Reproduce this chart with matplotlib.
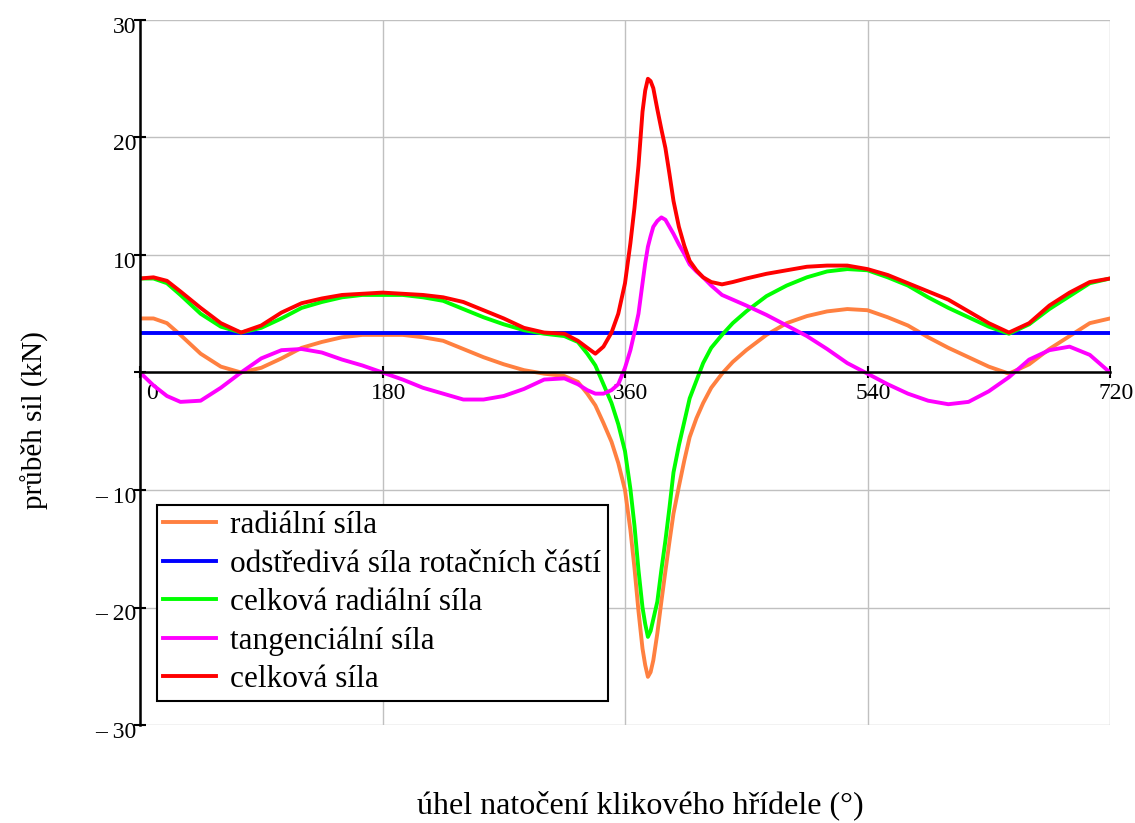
import matplotlib
matplotlib.use('Agg')
import matplotlib.pyplot as plt
from matplotlib.transforms import ScaledTranslation

plt.rcParams['font.family'] = ['Liberation Serif', 'DejaVu Serif']

# uhel natoceni klikoveho hridele [deg]
uhel = [0, 10, 20, 30, 45, 60, 75, 90, 105, 120, 135, 150, 165, 180, 195, 210, 225, 240,
        255, 270, 285, 300, 315, 325, 332, 338, 344, 350, 355, 360, 364, 367, 370, 373,
        375, 377, 379, 381, 384, 387, 390, 393, 396, 400, 404, 408, 413, 418, 424, 432,
        440, 450, 465, 480, 495, 510, 525, 540, 555, 570, 585, 600, 615, 630, 645, 660,
        675, 690, 705, 720]

radialni = [4.6, 4.6, 4.2, 3.2, 1.6, 0.5, 0.0, 0.4, 1.2, 2.1, 2.6, 3.0, 3.2, 3.2, 3.2, 3.0, 2.7, 2.0,
            1.3, 0.7, 0.2, -0.1, -0.3, -0.8, -1.8, -2.8, -4.3, -5.9, -7.7, -10.0, -13.4, -16.6, -20.3, -23.5,
            -24.9, -25.9, -25.5, -24.5, -22.2, -19.5, -16.9, -14.4, -12.0, -9.7, -7.5, -5.5, -3.9, -2.6, -1.3, -0.1,
            0.9, 1.9, 3.2, 4.2, 4.8, 5.2, 5.4, 5.3, 4.7, 4.0, 3.0, 2.1, 1.3, 0.5, -0.1, 0.7,
            2.0, 3.1, 4.2, 4.6]

odstrediva = 3.4

celkova_radialni = [8.0, 8.0, 7.6, 6.6, 5.0, 3.9, 3.4, 3.8, 4.6, 5.5, 6.0, 6.4, 6.6, 6.6, 6.6, 6.4, 6.1, 5.4,
                    4.7, 4.1, 3.6, 3.3, 3.1, 2.6, 1.6, 0.6, -1.0, -2.6, -4.4, -6.7, -9.9, -13.0, -16.8, -20.0,
                    -21.4, -22.5, -22.0, -21.0, -19.5, -16.8, -14.3, -11.5, -8.5, -6.2, -4.2, -2.2, -0.7, 0.8, 2.1, 3.2,
                    4.2, 5.2, 6.5, 7.4, 8.1, 8.6, 8.8, 8.7, 8.1, 7.4, 6.4, 5.5, 4.7, 3.9, 3.3, 4.1,
                    5.4, 6.5, 7.6, 8.0]

tangencialni = [0.0, -1.1, -2.0, -2.5, -2.4, -1.3, 0.0, 1.2, 1.9, 2.0, 1.7, 1.1, 0.6, 0.0, -0.6, -1.3, -1.8, -2.3,
                -2.3, -2.0, -1.4, -0.6, -0.5, -1.0, -1.5, -1.8, -1.8, -1.5, -1.0, 0.4, 1.9, 3.4, 5.0, 7.6,
                9.3, 10.7, 11.6, 12.4, 12.9, 13.2, 13.0, 12.4, 11.8, 10.9, 10.1, 9.2, 8.6, 8.1, 7.4, 6.6,
                6.2, 5.7, 4.9, 4.0, 3.1, 2.0, 0.8, -0.1, -1.0, -1.8, -2.4, -2.7, -2.5, -1.6, -0.4, 1.1,
                1.9, 2.2, 1.5, 0.0]

celkova = [8.0, 8.1, 7.8, 6.9, 5.5, 4.2, 3.4, 4.0, 5.1, 5.9, 6.3, 6.6, 6.7, 6.8, 6.7, 6.6, 6.4, 6.0,
           5.3, 4.6, 3.8, 3.4, 3.3, 2.7, 2.1, 1.6, 2.2, 3.4, 5.0, 7.6, 11.0, 14.0, 17.6, 22.2,
           24.0, 25.0, 24.8, 24.2, 22.4, 20.7, 19.1, 16.9, 14.6, 12.4, 10.8, 9.5, 8.7, 8.1, 7.7, 7.5,
           7.7, 8.0, 8.4, 8.7, 9.0, 9.1, 9.1, 8.8, 8.3, 7.6, 6.9, 6.2, 5.2, 4.2, 3.4, 4.2,
           5.7, 6.8, 7.7, 8.0]

x_ticks = [0, 180, 360, 540, 720]
y_ticks = [-30, -20, -10, 0, 10, 20, 30]
y_labels = ['\u2013 30', '\u2013 20', '\u2013 10', '', '10', '20', '30']

fig = plt.figure(figsize=(11.35, 8.23), dpi=100)
ax = fig.add_axes([140 / 1135, 1 - 725 / 823, 970 / 1135, 705 / 823])

lw = 2.8
ax.plot(uhel, radialni, color='#ff8040', lw=lw, label='radiální síla')
ax.plot(uhel, [odstrediva] * len(uhel), color='#0000ff', lw=lw, label='odstředivá síla rotačních částí')
ax.plot(uhel, celkova_radialni, color='#00ff00', lw=lw, label='celková radiální síla')
ax.plot(uhel, tangencialni, color='#ff00ff', lw=lw, label='tangenciální síla')
ax.plot(uhel, celkova, color='#ff0000', lw=lw, label='celková síla')

ax.set_xlim(0, 720)
ax.set_ylim(-30, 30)
ax.set_xticks(x_ticks)
ax.set_yticks(y_ticks)
ax.set_yticklabels(y_labels)
ax.grid(True, color='#c0c0c0', lw=1)
ax.set_axisbelow(True)

for s in ['top', 'right']:
    ax.spines[s].set_visible(False)
ax.spines['left'].set_linewidth(1.8)
ax.spines['bottom'].set_position(('data', 0))
ax.spines['bottom'].set_linewidth(1.8)

ax.tick_params(axis='y', direction='inout', length=9, width=1.5, pad=-2, labelsize=17)
ax.tick_params(axis='x', direction='inout', length=9, width=1.5, pad=3, labelsize=17)

off = ScaledTranslation(6 / 100, 0, fig.dpi_scale_trans)
for lbl in ax.get_xticklabels():
    lbl.set_transform(lbl.get_transform() + off)
ax.get_xticklabels()[0].set_ha('left')
for lbl in ax.get_yticklabels():
    lbl.set_va('top')
    lbl.set_transform(lbl.get_transform() + ScaledTranslation(0, 3 / 100, fig.dpi_scale_trans))

leg = ax.legend(loc='upper left', bbox_to_anchor=(157 / 1135, 1 - 505 / 823),
                bbox_transform=fig.transFigure, borderaxespad=0, fancybox=False,
                edgecolor='black', framealpha=1, fontsize=22.5, handlelength=1.7,
                handletextpad=0.45, labelspacing=0.3, borderpad=0.2)
leg.get_frame().set_linewidth(1.5)

fig.text(35 / 1135, 1 - 420 / 823, 'průběh sil (kN)', rotation=90, fontsize=21,
         ha='center', va='center')
fig.text(640 / 1135, 1 - 805 / 823, 'úhel natočení klikového hřídele (°)', fontsize=23,
         ha='center', va='center')

fig.savefig('out.png', dpi=100)
